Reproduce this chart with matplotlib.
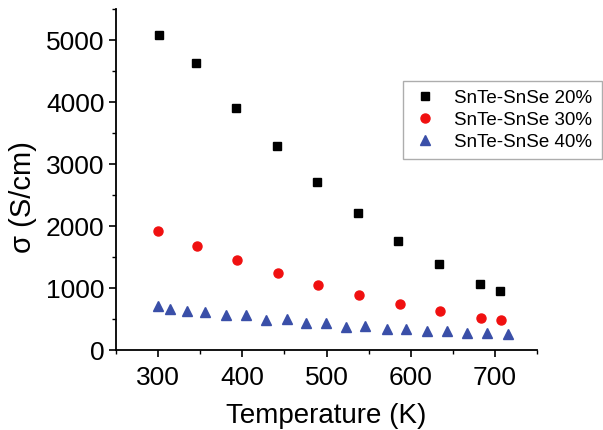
import numpy as np
import matplotlib.pyplot as plt

plt.rcParams['font.family'] = ['Liberation Sans', 'DejaVu Sans']

# electrical conductivity vs temperature
t20 = [301, 345, 392, 441, 489, 537, 585, 634, 682, 706]
s20 = [5080, 4630, 3900, 3290, 2700, 2210, 1760, 1380, 1060, 945]

t30 = [300, 346, 394, 442, 490, 539, 587, 635, 684, 708]
s30 = [1920, 1670, 1450, 1240, 1050, 885, 740, 620, 520, 477]

t40 = [299, 314, 334, 356, 380, 404, 428, 453, 476, 499,
       523, 546, 572, 595, 619, 643, 667, 691, 716]
s40 = [702, 660, 632, 606, 563, 563, 477, 493, 430, 440,
       375, 391, 338, 338, 305, 305, 273, 273, 262]

fig = plt.figure(figsize=(6.03, 4.31), dpi=100)
ax = fig.add_axes([0.193, 0.186, 0.697, 0.791])

ax.plot(t20, s20, 's', color='black', ms=5.8, label='SnTe-SnSe 20%')
ax.plot(t30, s30, 'o', color='#f01010', ms=6.5, label='SnTe-SnSe 30%')
ax.plot(t40, s40, '^', color='#3a4fa8', ms=7, label='SnTe-SnSe 40%')

ax.set_xlim(250, 750)
ax.set_ylim(0, 5500)
ax.set_xticks([300, 400, 500, 600, 700])
ax.set_xticks(np.arange(250, 751, 100), minor=True)
ax.set_yticks([0, 1000, 2000, 3000, 4000, 5000])
ax.set_yticks(np.arange(500, 5501, 1000), minor=True)

for s in ['top', 'right']:
    ax.spines[s].set_visible(False)
for s in ['left', 'bottom']:
    ax.spines[s].set_linewidth(1.3)

ax.tick_params(which='major', direction='out', length=5, width=1.2, labelsize=19)
ax.tick_params(axis='x', which='major', pad=6)
ax.tick_params(which='minor', direction='out', length=3, width=1.0)

ax.set_xlabel('Temperature (K)', fontsize=20, labelpad=9)
ax.set_ylabel('σ (S/cm)', fontsize=21, labelpad=4)
ax.yaxis.set_label_coords(-0.19, 0.45)

leg = ax.legend(loc='upper left', bbox_to_anchor=(0.668, 0.633, 0.33, 0.177),
                bbox_transform=fig.transFigure, mode='expand', borderaxespad=0,
                fontsize=13.5, frameon=True, fancybox=False, handletextpad=0.8,
                labelspacing=0.25, borderpad=0.45, handlelength=1.5)
leg.get_frame().set_edgecolor('#999999')
leg.get_frame().set_linewidth(1.0)

fig.savefig('out.png', dpi=100)
